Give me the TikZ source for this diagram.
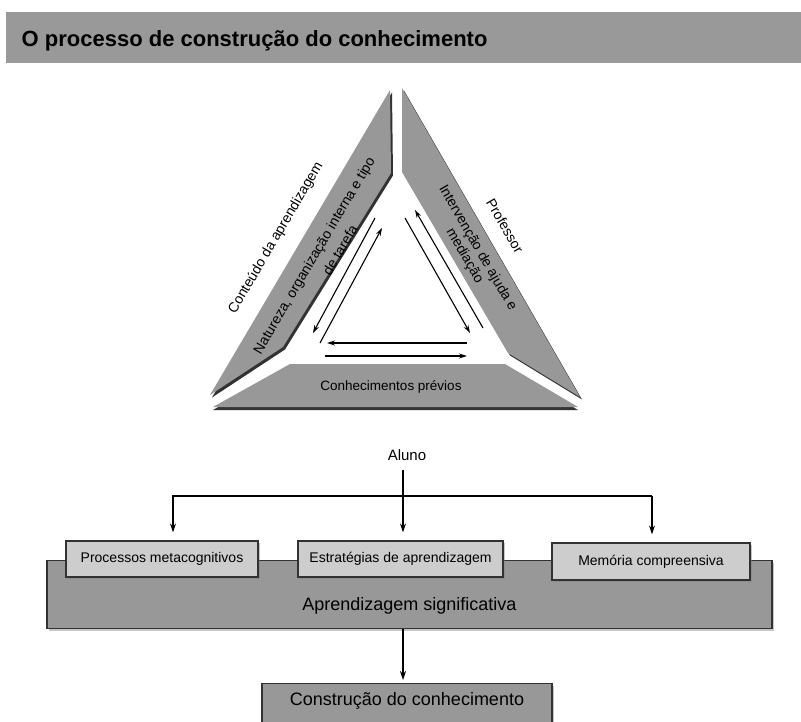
\documentclass[tikz,border=0pt]{standalone}
\usepackage{fontspec}
\setmainfont{Liberation Sans}
\usetikzlibrary{arrows.meta,shadows,positioning}
\definecolor{barGray}{RGB}{153,153,153}
\definecolor{stripGray}{RGB}{152,152,152}
\definecolor{edgeDark}{RGB}{50,50,50}
\definecolor{boxLight}{RGB}{205,205,205}
\definecolor{boxMid}{RGB}{152,152,152}
\tikzset{
  lbl/.style={font=\fontsize{14}{15}\selectfont, inner sep=0pt},
  arr/.style={-{Stealth[length=8pt,width=5pt]}, line width=1.1pt},
  flow/.style={-{Stealth[length=9pt,width=6pt]}, line width=1.3pt},
  box/.style={draw=edgeDark, line width=1.2pt, inner sep=0pt,
    drop shadow={shadow xshift=2pt, shadow yshift=-2pt, opacity=0.45}},
  smallbox/.style={box, fill=boxLight, minimum height=36pt, font=\fontsize{14}{16}\selectfont},
}
\begin{document}
\begin{tikzpicture}[x=1pt,y=-1pt]
	\path[use as bounding box, clip] (0,0) rectangle (801,722);
	\fill[barGray] (6,12) rectangle (801,63);
	\node[anchor=base west, font=\bfseries\fontsize{22}{26}\selectfont, inner sep=0pt] (title) at (21.5,47) {O processo de construção do conhecimento};
	\fill[edgeDark, shift={(2,2.5)}] (210,395)--(390,90)--(391,173)--(283,347)--cycle;
	\fill[stripGray] (210,395)--(390,90)--(391,173)--(283,347)--cycle;
	\fill[edgeDark, shift={(2,2.5)}] (402,88)--(402,172)--(508,353)--(580,397)--cycle;
	\fill[stripGray] (402,88)--(402,172)--(508,353)--(580,397)--cycle;
	\fill[edgeDark, shift={(0,3)}] (213,407)--(290,364)--(505,364)--(578,407)--cycle;
	\fill[stripGray] (213,407)--(290,364)--(505,364)--(578,407)--cycle;
	\node[lbl, rotate=59.5] (conteudo) at (276,238) {Conteúdo da aprendizagem};
	\node[lbl, rotate=59.5] (natureza) at (315,256) {Natureza, organização interna e tipo};
	\node[lbl, rotate=59.5] (tarefa) at (340,250) {de tarefa};
	\node[lbl, rotate=-60] (professor) at (505,226) {Professor};
	\node[lbl, rotate=-60, align=center] (intervencao) at (471,252) {Intervenção de ajuda e\\mediação};
	\node[lbl, font=\fontsize{13.5}{15}\selectfont] (previos) at (391,387) {Conhecimentos prévios};
	\draw[arr] (375,218)--(313,333);
	\draw[arr] (320,343)--(382,228);
	\draw[arr] (483,328)--(415,210);
	\draw[arr] (405,218)--(470,333);
	\draw[arr] (467,343)--(327,343);
	\draw[arr] (325,356)--(467,356);
	\node[lbl, font=\fontsize{15}{17}\selectfont] (aluno) at (407,455) {Aluno};
	\node[box, fill=boxMid, minimum width=725pt, text height=49.5pt, text depth=18.5pt, font=\fontsize{18}{20}\selectfont] (aprend) at (409.5,560) [anchor=north] {Aprendizagem significativa};
	\node[smallbox, minimum width=192pt] (meta) at (162,559) {Processos metacognitivos};
	\node[smallbox, minimum width=205pt] (estrat) at (400.5,559) {Estratégias de aprendizagem};
	\node[smallbox, minimum width=198pt, minimum height=37pt] (memo) at (651,561.5) {Memória compreensiva};
	\node[box, fill=boxMid, minimum width=290pt, text height=21.5pt, text depth=30pt, font=\fontsize{18}{20}\selectfont, anchor=north] (final) at (407,683) {Construção do conhecimento};
	\coordinate (fork) at (403,496);
	\coordinate (forkL) at (173,496);
	\coordinate (forkR) at (652,496);
	\draw[flow, shorten <=9pt, shorten >=8pt] (aluno.south -| fork)--(estrat.north -| fork);
	\draw[flow, shorten >=8pt] (forkR)--(forkL)--(forkL |- meta.north);
	\draw[flow, shorten >=8pt] (forkR)--(forkR |- memo.north);
	\draw[flow, shorten >=3pt] (aprend.south -| fork)--(final.north -| fork);
\end{tikzpicture}
\end{document}
